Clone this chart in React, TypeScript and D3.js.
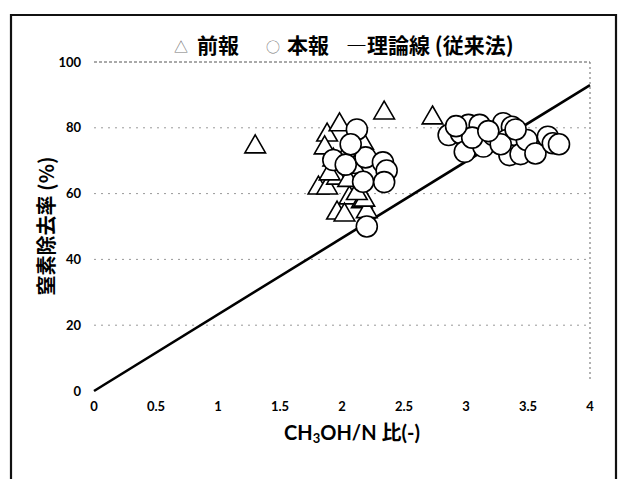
import { useEffect, useRef } from "react";
import * as d3 from "d3";

// 前報 (triangles) - [CH3OH/N ratio, removal %]
const prevX = [1.30, 2.34, 2.73, 1.88, 1.98, 1.86, 1.81, 1.88, 1.96, 2.06, 1.96, 2.02, 2.16, 2.20, 2.08, 2.17, 1.93, 2.10, 2.05, 2.18, 2.02, 1.90, 2.12];
const prevY = [74.2, 84.5, 83.0, 77.8, 80.9, 73.9, 61.7, 61.7, 64.7, 58.7, 54.1, 53.5, 57.5, 54.5, 74.3, 75.3, 70.2, 68.0, 64.0, 58.0, 71.0, 66.0, 60.0];

// 本報 (circles)
const thisX = [2.12, 1.93, 2.03, 2.19, 2.33, 2.36, 2.17, 2.34, 2.20, 2.07,
  2.86, 2.96, 3.02, 3.11, 2.99, 3.14, 3.22, 3.30, 3.37, 3.33, 3.37, 3.35, 3.28, 3.44, 3.49, 3.56, 3.66, 3.70, 3.05, 3.18, 3.75, 3.40, 2.92];
const thisY = [79.5, 70.2, 68.8, 71.0, 69.5, 67.0, 63.6, 63.5, 50.0, 75.0,
  77.8, 78.3, 80.9, 80.9, 72.7, 74.3, 77.8, 81.4, 80.3, 76.3, 73.7, 71.7, 75.0, 72.0, 76.3, 72.2, 77.3, 75.3, 77.0, 79.0, 75.0, 79.5, 80.5];

// 理論線 (従来法)
const theoryX = [0, 4];
const theoryY = [0, 93];

const xTicks = [0, 0.5, 1, 1.5, 2, 2.5, 3, 3.5, 4];
const yTicks = [0, 20, 40, 60, 80, 100];

const latin = "Lato, 'Open Sans', sans-serif";
const cjk = "'Noto Sans CJK JP', 'Noto Sans', sans-serif";

const App = () => {
  const svgRef = useRef<SVGSVGElement | null>(null);

  useEffect(() => {
    const svg = d3.select(svgRef.current);
    svg.selectAll("*").remove();

    const x = d3.scaleLinear().domain([0, 4]).range([94, 590]);
    const y = d3.scaleLinear().domain([0, 100]).range([391, 62]);

    // outer frame
    svg.append("path")
      .attr("d", "M11,479 L11,15 L616,15 L616,479")
      .attr("fill", "none").attr("stroke", "#111").attr("stroke-width", 2.2);

    // gridlines
    svg.append("g").selectAll("line")
      .data(yTicks.filter((t) => t > 0))
      .join("line")
      .attr("x1", x(0)).attr("x2", x(4))
      .attr("y1", (d) => y(d)).attr("y2", (d) => y(d))
      .attr("stroke", (d) => (d === 100 ? "#555" : "#999"))
      .attr("stroke-width", 1)
      .attr("stroke-dasharray", (d) => (d === 100 ? "3,2" : "2,5"));

    // right border of the plot
    svg.append("line")
      .attr("x1", x(4)).attr("x2", x(4))
      .attr("y1", y(100)).attr("y2", y(3))
      .attr("stroke", "#666").attr("stroke-dasharray", "2,3");

    // tick labels
    svg.append("g").selectAll("text")
      .data(xTicks)
      .join("text")
      .attr("x", (d) => x(d)).attr("y", 411)
      .attr("text-anchor", "middle")
      .attr("font-family", latin).attr("font-size", 13).attr("font-weight", "bold")
      .text((d) => String(d));

    svg.append("g").selectAll("text")
      .data(yTicks)
      .join("text")
      .attr("x", 81).attr("y", (d) => y(d) + 4.5)
      .attr("text-anchor", "end")
      .attr("font-family", latin).attr("font-size", 13).attr("font-weight", "bold")
      .text((d) => String(d));

    // theory line
    const line = d3.line<number>().x((d) => x(theoryX[d])).y((d) => y(theoryY[d]));
    svg.append("path")
      .attr("d", line(d3.range(theoryX.length)))
      .attr("fill", "none").attr("stroke", "#000").attr("stroke-width", 2.6);

    // triangles
    const tri = d3.symbol().type(d3.symbolTriangle).size(185);
    svg.append("g").selectAll("path")
      .data(d3.range(prevX.length))
      .join("path")
      .attr("d", tri)
      .attr("transform", (i) => `translate(${x(prevX[i])},${y(prevY[i])})`)
      .attr("fill", "#fff").attr("stroke", "#000").attr("stroke-width", 1.6);

    // circles
    svg.append("g").selectAll("circle")
      .data(d3.range(thisX.length))
      .join("circle")
      .attr("cx", (i) => x(thisX[i])).attr("cy", (i) => y(thisY[i]))
      .attr("r", 10.5)
      .attr("fill", "#fff").attr("stroke", "#000").attr("stroke-width", 1.6);

    // legend
    const leg = svg.append("g").attr("font-family", cjk).attr("font-weight", "bold").attr("font-size", 21);
    leg.append("text").attr("x", 181).attr("y", 52).attr("text-anchor", "middle")
      .attr("font-size", 14).attr("font-weight", "normal").attr("fill", "#777").text("△");
    leg.append("text").attr("x", 197).attr("y", 53).text("前報");
    leg.append("text").attr("x", 273).attr("y", 52).attr("text-anchor", "middle")
      .attr("font-size", 14).attr("font-weight", "normal").attr("fill", "#777").text("○");
    leg.append("text").attr("x", 287).attr("y", 53).text("本報");
    leg.append("text").attr("x", 346).attr("y", 53).text("―理論線 (従来法)");

    // axis titles
    const xt = svg.append("text")
      .attr("x", 352).attr("y", 440).attr("text-anchor", "middle")
      .attr("font-family", latin).attr("font-size", 20).attr("font-weight", "bold");
    xt.append("tspan").text("CH");
    xt.append("tspan").attr("font-size", 13).attr("dy", 3).text("3");
    xt.append("tspan").attr("dy", -3).text("OH/N ");
    xt.append("tspan").attr("font-family", cjk).text("比");
    xt.append("tspan").text("(-)");

    svg.append("text")
      .attr("transform", "translate(54,226) rotate(-90)")
      .attr("text-anchor", "middle")
      .attr("font-family", cjk).attr("font-size", 20).attr("font-weight", "bold")
      .text("窒素除去率 (%)");
  }, []);

  return (
    <svg
      ref={svgRef}
      width={618}
      height={479}
      style={{ position: "absolute", left: 0, top: 0, background: "#fff" }}
    />
  );
};

export default App;
